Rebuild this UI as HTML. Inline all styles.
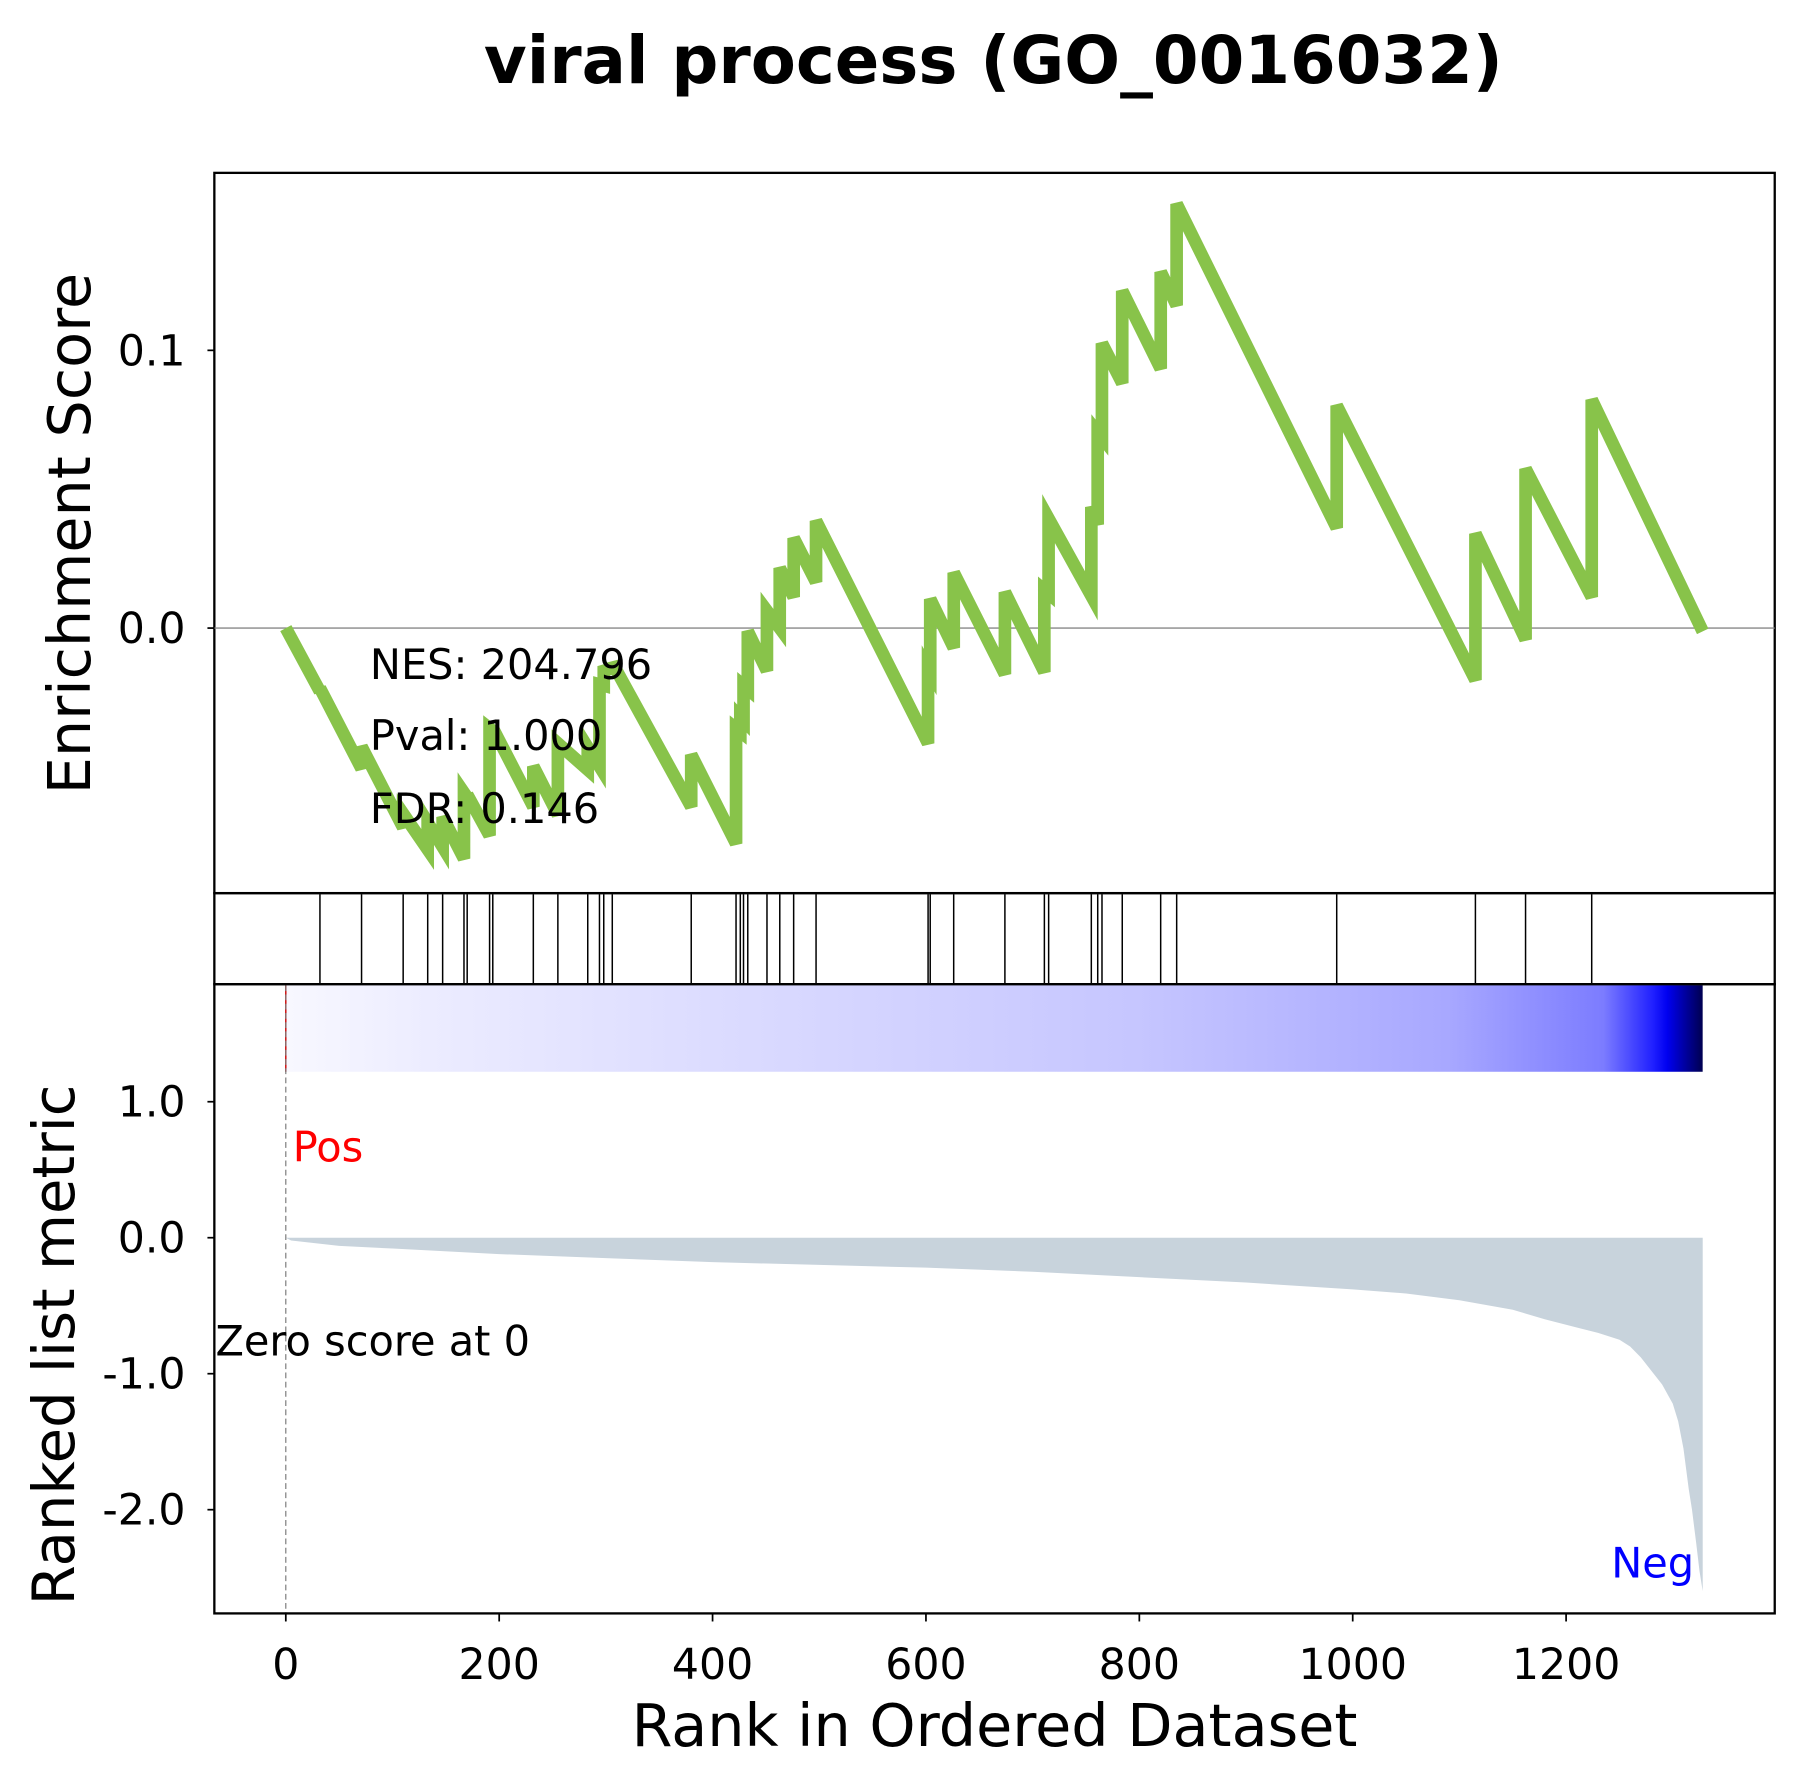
<!DOCTYPE html>
<html><head><meta charset="utf-8"><style>
html,body{margin:0;padding:0;background:#fff;}
svg{display:block;font-family:"DejaVu Sans","Liberation Sans",sans-serif;}
</style></head><body>
<svg id="chart" width="1807" height="1788" viewBox="0 0 1568 1551.5" preserveAspectRatio="none" xmlns="http://www.w3.org/2000/svg">
<defs>
<linearGradient id="cbar" x1="0" x2="1" y1="0" y2="0">
<stop offset="0" stop-color="#f8f8ff"/><stop offset="0.1" stop-color="#ececff"/><stop offset="0.3" stop-color="#dcdcff"/><stop offset="0.6" stop-color="#c6c6ff"/><stop offset="0.82" stop-color="#a8a8ff"/><stop offset="0.93" stop-color="#7c7cff"/><stop offset="0.965" stop-color="#2020ff"/><stop offset="0.975" stop-color="#0000f0"/><stop offset="1" stop-color="#000050"/>
</linearGradient>
</defs>
<text x="862" y="72" text-anchor="middle" font-size="57" font-weight="bold">viral process (GO_0016032)</text>
<g id="g"></g>
</svg>
<script>
const hitRanks=[32,71,110,133,147,167,170,191,194,232,255,283,294,298,306,380,422,426,429,433,451,463,476,497,602,604,626,674,711,715,755,761,765,784,820,835,985,1115,1162,1224];
const esBefore=[-0.0228,-0.0506,-0.0718,-0.0797,-0.0788,-0.0830,-0.0610,-0.0747,-0.0370,-0.0643,-0.0672,-0.0510,-0.0498,-0.0207,-0.0145,-0.0643,-0.0776,-0.0373,-0.0332,-0.0220,-0.0154,0,0.0112,0.0166,-0.0415,-0.0158,-0.0071,-0.0166,-0.0158,0.0124,0.0116,0.0373,0.0686,0.0882,0.0934,0.1162,0.0361,-0.0187,-0.0041,0.0112];
const esAfter=[-0.0216,-0.0427,-0.0668,-0.0700,-0.0680,-0.0593,-0.0600,-0.0361,-0.0360,-0.0498,-0.0415,-0.0430,-0.0203,-0.0154,-0.0125,-0.0456,-0.0361,-0.0320,-0.0207,-0.0012,0.0062,0.0216,0.0324,0.0386,-0.0145,0.0104,0.0199,0.0129,0.0137,0.0394,0.0436,0.0705,0.1025,0.1214,0.1282,0.1527,0.0801,0.0340,0.0573,0.0822];
const esEnd=-0.0012;
const nGenes=1328;
const metricRanks=[0,5,50,100,200,300,400,500,600,700,800,900,1000,1050,1100,1150,1180,1210,1230,1250,1260,1270,1280,1290,1300,1305,1310,1315,1318,1322,1325,1328];
const metricValues=[0,-0.02,-0.06,-0.08,-0.12,-0.15,-0.18,-0.2,-0.22,-0.25,-0.29,-0.33,-0.38,-0.41,-0.46,-0.53,-0.6,-0.66,-0.7,-0.75,-0.8,-0.88,-0.98,-1.08,-1.22,-1.35,-1.55,-1.85,-2.0,-2.25,-2.45,-2.6];
const xTicks=[0,200,400,600,800,1000,1200];
const esTicks=[0.0,0.1];
const metricTicks=[1.0,0.0,-1.0,-2.0];
const tickFmt=v=>v.toFixed(1);

const NS="http://www.w3.org/2000/svg";
const g=document.getElementById('g');
const X=r=>248+r*0.9258;
const YE=v=>545-v*2410;
const YM=v=>1074-v*118;
function mk(t,a,p){const e=document.createElementNS(NS,t);for(const k in a)e.setAttribute(k,a[k]);(p||g).appendChild(e);return e;}

const topAx=mk('rect',{x:186,y:150,width:1354,height:625,fill:'none',stroke:'#000','stroke-width':2});


mk('line',{x1:186,x2:1540,y1:YE(0),y2:YE(0),stroke:'#888','stroke-width':1.2});
let pts=[[0,0]];
hitRanks.forEach((r,i)=>{pts.push([r,esBefore[i]]);pts.push([r,esAfter[i]]);});
pts.push([nGenes,esEnd]);
const es=mk('polyline',{points:pts.map(p=>X(p[0]).toFixed(1)+','+YE(p[1]).toFixed(1)).join(' '),fill:'none',stroke:'#88c34a','stroke-width':11,'stroke-linejoin':'miter'});


esTicks.forEach(v=>{
  mk('line',{x1:180,x2:186,y1:YE(v),y2:YE(v),stroke:'#000','stroke-width':1.5});
  const t=mk('text',{x:161,y:YE(v)+13,'text-anchor':'end','font-size':37});t.textContent=tickFmt(v);
  
  
});
[['NES: 204.796',589],['Pval: 1.000',651],['FDR: 0.146',714]].forEach(s=>{
  const t=mk('text',{x:321,y:s[1],'font-size':36});t.textContent=s[0];
  
  
});
const yl1=mk('text',{x:0,y:0,'font-size':51,'text-anchor':'middle',transform:'translate(78,463) rotate(-90)'});yl1.textContent='Enrichment Score';



const hp=mk('rect',{x:186,y:775,width:1354,height:79,fill:'none',stroke:'#000','stroke-width':2});


hitRanks.forEach(r=>{
  const l=mk('line',{x1:X(r),x2:X(r),y1:776,y2:853,stroke:'#000','stroke-width':1.3});
  
  
});

const cb=mk('rect',{x:X(0),y:855,width:X(nGenes)-X(0),height:75,fill:'url(#cbar)'});


mk('line',{x1:X(0),x2:X(0),y1:855,y2:930,stroke:'#c00','stroke-width':1.2});
let ap='M'+X(metricRanks[0])+','+YM(0);
metricRanks.forEach((r,i)=>{ap+=' L'+X(r).toFixed(1)+','+YM(metricValues[i]).toFixed(1);});
ap+=' L'+X(nGenes).toFixed(1)+','+YM(0)+' Z';
const area=mk('path',{d:ap,fill:'#c8d3dc'});


mk('line',{x1:X(0),x2:X(0),y1:855,y2:1400,stroke:'#777','stroke-width':1,'stroke-dasharray':'5,3'});
const bAx=mk('rect',{x:186,y:854,width:1354,height:546,fill:'none',stroke:'#000','stroke-width':2});


metricTicks.forEach(v=>{
  mk('line',{x1:180,x2:186,y1:YM(v),y2:YM(v),stroke:'#000','stroke-width':1.5});
  const t=mk('text',{x:161,y:YM(v)+13,'text-anchor':'end','font-size':37});t.textContent=tickFmt(v);
  
  
});
xTicks.forEach(v=>{
  mk('line',{x1:X(v),x2:X(v),y1:1400,y2:1407,stroke:'#000','stroke-width':1.5});
  const t=mk('text',{x:X(v),y:1457,'text-anchor':'middle','font-size':37});t.textContent=v;
  
  
});
const pos=mk('text',{x:254,y:1008,'font-size':36,fill:'#f00'});pos.textContent='Pos';


const neg=mk('text',{x:1470,y:1369,'font-size':36,fill:'#00f','text-anchor':'end'});neg.textContent='Neg';


const zs=mk('text',{x:187,y:1176,'font-size':36});zs.textContent='Zero score at 0';


const yl2=mk('text',{x:0,y:0,'font-size':50,'text-anchor':'middle',transform:'translate(64,1167) rotate(-90)'});yl2.textContent='Ranked list metric';


const xl=mk('text',{x:863,y:1515,'font-size':51,'text-anchor':'middle'});xl.textContent='Rank in Ordered Dataset';


</script>
</body></html>
